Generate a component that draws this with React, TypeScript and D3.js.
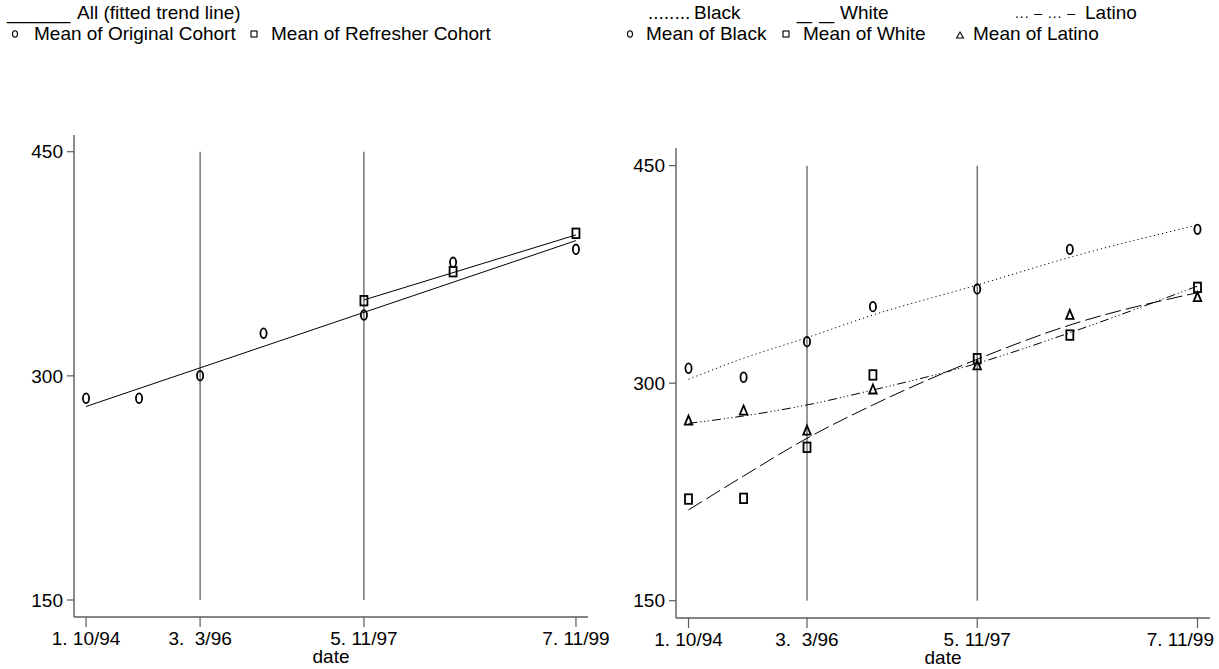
import React from "react";
import * as d3 from "d3";

// ---------- data ----------
const waveTime = [0, 6.6, 14.2, 22.1, 34.6, 45.7, 61]; // months since 10/94
const tickWaveIdx = [0, 2, 4, 6];
const tickLabels = ["1. 10/94", "3.  3/96", "5. 11/97", "7. 11/99"];
const refLineWaveIdx = [2, 4];
const yTicks = [150, 300, 450];

// left panel
const originalMeans = [285.0, 285.0, 300.1, 328.5, 340.7, 376.0, 384.7];
const refresherWaveIdx = [4, 5, 6];
const refresherMeans = [350.3, 369.7, 395.4];
const trendOriginalIdx = [0, 6];
const trendOriginal = [279.5, 390.5];
const trendRefresherIdx = [4, 6];
const trendRefresher = [350.8, 394.3];

// right panel
const blackMeans = [310.3, 304.1, 328.6, 352.8, 365.0, 392.3, 406.1];
const whiteMeans = [220.1, 220.6, 255.8, 305.7, 316.9, 333.2, 366.1];
const latinoMeans = [274.6, 281.5, 267.7, 296.0, 312.6, 347.5, 359.7];
const blackFit = [302.7, 317.2, 331.4, 347.0, 367.7, 386.8, 409.1];
const whiteFit = [212.6, 236.0, 262.0, 285.0, 316.5, 340.1, 362.4];
const latinoFit = [272.3, 277.4, 285.0, 295.3, 313.7, 334.8, 367.0];

const FONT = "'Liberation Sans', Arial, Helvetica, sans-serif";
const AXIS = "#5c5c5c";
const PAGE_W = 1219;

const Circle = ({ x, y, rx = 3.1, ry = 4.8, sw = 1.8 }) => (
  <ellipse cx={x} cy={y} rx={rx} ry={ry} fill="none" stroke="#000" strokeWidth={sw} />
);
const Square = ({ x, y, w = 7, h = 9.5, sw = 1.8 }) => (
  <rect x={x - w / 2} y={y - h / 2} width={w} height={h} fill="none" stroke="#000" strokeWidth={sw} />
);
const Triangle = ({ x, y, w = 7.5, h = 9, sw = 1.8 }) => (
  <path
    d={`M${x},${y - h / 2}L${x + w / 2},${y + h / 2}L${x - w / 2},${y + h / 2}Z`}
    fill="none"
    stroke="#000"
    strokeWidth={sw}
    strokeLinejoin="miter"
  />
);

type PanelProps = {
  x0: number;
  x1: number;
  y150: number;
  y450: number;
  axisY: number;
  axisTop: number;
  children: (xs: d3.ScaleLinear<number, number>, ys: d3.ScaleLinear<number, number>) => React.ReactNode;
};

function Panel({ x0, x1, y150, y450, axisY, axisTop, children }: PanelProps) {
  const xs = d3.scaleLinear().domain([-1.5, 62.5]).range([x0, x1]);
  const ys = d3.scaleLinear().domain([150, 450]).range([y150, y450]);
  return (
    <g>
      {refLineWaveIdx.map((i) => (
        <line
          key={"ref" + i}
          x1={xs(waveTime[i])}
          x2={xs(waveTime[i])}
          y1={ys(150)}
          y2={ys(450)}
          stroke="#444"
          strokeWidth={1.1}
        />
      ))}
      <line x1={x0} x2={x0} y1={axisY} y2={axisTop} stroke={AXIS} strokeWidth={1.4} />
      {yTicks.map((t) => (
        <g key={"yt" + t}>
          <line x1={x0 - 7} x2={x0} y1={ys(t)} y2={ys(t)} stroke={AXIS} strokeWidth={1.2} />
          <text x={x0 - 11} y={ys(t)} dy="0.35em" textAnchor="end" fontSize={19} fontFamily={FONT}>
            {t}
          </text>
        </g>
      ))}
      <line x1={x0} x2={x1} y1={axisY} y2={axisY} stroke={AXIS} strokeWidth={1.4} />
      {tickWaveIdx.map((i, k) => {
        const cx = xs(waveTime[i]);
        const overflow = cx + 34 > PAGE_W - 4;
        return (
          <g key={"xt" + i}>
            <line x1={cx} x2={cx} y1={axisY} y2={axisY + 10} stroke={AXIS} strokeWidth={1.2} />
            <text
              x={overflow ? PAGE_W - 5 : cx}
              y={axisY + 28}
              textAnchor={overflow ? "end" : "middle"}
              fontSize={19}
              fontFamily={FONT}
              style={{ whiteSpace: "pre" }}
            >
              {tickLabels[k]}
            </text>
          </g>
        );
      })}
      <text x={(x0 + x1) / 2} y={axisY + 46} textAnchor="middle" fontSize={19} fontFamily={FONT}>
        date
      </text>
      {children(xs, ys)}
    </g>
  );
}

export default function App() {
  const lineGen = (xs, ys, idx: number[], vals: number[], curve = d3.curveLinear) =>
    d3
      .line<number>()
      .x((_, k) => xs(waveTime[idx[k]]))
      .y((v) => ys(v))
      .curve(curve)(vals) || "";
  const all = waveTime.map((_, i) => i);

  return (
    <svg
      width={1219}
      height={669}
      style={{ position: "absolute", left: 0, top: 0, background: "#fff" }}
      fontFamily={FONT}
    >
      <rect width={1219} height={669} fill="#fff" />
      {/* left legend */}
      <g fontSize={19} fontFamily={FONT}>
        <text x={7} y={19}>______</text>
        <text x={77} y={19}>All (fitted trend line)</text>
        <Circle x={15} y={34} rx={2.5} ry={3.2} sw={1.1} />
        <text x={34} y={40}>Mean of Original Cohort</text>
        <Square x={254} y={34} w={6} h={6} sw={1.1} />
        <text x={271} y={40}>Mean of Refresher Cohort</text>
      </g>
      {/* right legend */}
      <g fontSize={19} fontFamily={FONT}>
        <text x={648} y={19}>........</text>
        <text x={694} y={19}>Black</text>
        <text
          x={797}
          y={19}
          textLength={37}
          lengthAdjust="spacingAndGlyphs"
          style={{ whiteSpace: "pre" }}
        >
          _ _
        </text>
        <text x={840} y={19}>White</text>
        <text
          x={1015}
          y={18}
          fontSize={14}
          textLength={60}
          lengthAdjust="spacing"
          style={{ whiteSpace: "pre" }}
        >
          {"... – ... –"}
        </text>
        <text x={1085} y={19}>Latino</text>
        <Circle x={630} y={34} rx={2.5} ry={3.2} sw={1.1} />
        <text x={646} y={40}>Mean of Black</text>
        <Square x={786} y={34} w={6} h={6} sw={1.1} />
        <text x={803} y={40}>Mean of White</text>
        <Triangle x={960} y={35} w={7} h={6} sw={1.1} />
        <text x={973} y={40}>Mean of Latino</text>
      </g>

      <Panel x0={74} x1={588} y150={600} y450={151.7} axisY={617} axisTop={135}>
        {(xs, ys) => (
          <g>
            <path d={lineGen(xs, ys, trendOriginalIdx, trendOriginal)} fill="none" stroke="#000" strokeWidth={1} />
            <path d={lineGen(xs, ys, trendRefresherIdx, trendRefresher)} fill="none" stroke="#000" strokeWidth={1} />
            {originalMeans.map((v, i) => (
              <Circle key={"o" + i} x={xs(waveTime[i])} y={ys(v)} />
            ))}
            {refresherMeans.map((v, k) => (
              <Square key={"r" + k} x={xs(waveTime[refresherWaveIdx[k]])} y={ys(v)} />
            ))}
          </g>
        )}
      </Panel>

      <Panel x0={676} x1={1210} y150={600.7} y450={165.7} axisY={618} axisTop={148}>
        {(xs, ys) => (
          <g>
            <path
              d={lineGen(xs, ys, all, blackFit, d3.curveMonotoneX)}
              fill="none"
              stroke="#000"
              strokeWidth={1}
              strokeDasharray="1.2 3"
            />
            <path
              d={lineGen(xs, ys, all, whiteFit, d3.curveMonotoneX)}
              fill="none"
              stroke="#000"
              strokeWidth={1}
              strokeDasharray="16 5"
            />
            <path
              d={lineGen(xs, ys, all, latinoFit, d3.curveMonotoneX)}
              fill="none"
              stroke="#000"
              strokeWidth={1}
              strokeDasharray="9 3 1.2 2.5 1.2 2.5 1.2 3"
            />
            {blackMeans.map((v, i) => (
              <Circle key={"b" + i} x={xs(waveTime[i])} y={ys(v)} />
            ))}
            {whiteMeans.map((v, i) => (
              <Square key={"w" + i} x={xs(waveTime[i])} y={ys(v)} />
            ))}
            {latinoMeans.map((v, i) => (
              <Triangle key={"l" + i} x={xs(waveTime[i])} y={ys(v)} />
            ))}
          </g>
        )}
      </Panel>
    </svg>
  );
}
